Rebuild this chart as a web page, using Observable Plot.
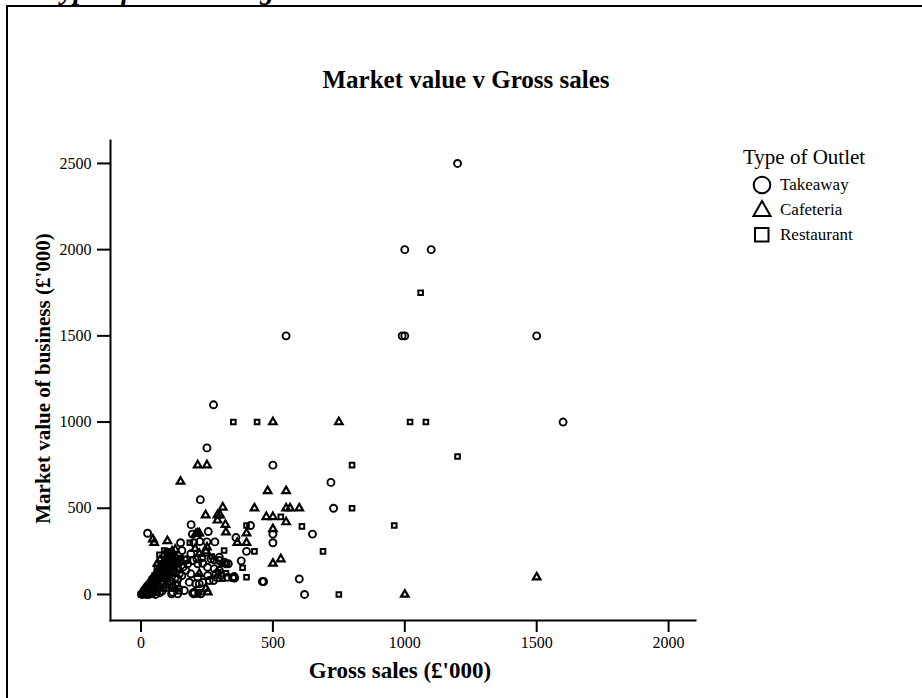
<!DOCTYPE html>
<html><head><meta charset="utf-8">
<script src="https://cdn.jsdelivr.net/npm/d3@7"></script>
<script src="https://cdn.jsdelivr.net/npm/@observablehq/plot@0.6"></script>
<style>
body{margin:0;background:#fff;font-family:"Liberation Serif","Times New Roman",serif;color:#000;}
#page{position:relative;width:922px;height:698px;overflow:hidden;background:#fff;}
#frame{position:absolute;left:6px;top:5px;width:1000px;height:1000px;border:2px solid #000;box-sizing:border-box;}
.t{position:absolute;line-height:1;white-space:nowrap;}
#chart{position:absolute;left:0;top:0;}
#chart svg{overflow:visible;}
#chart svg text{font-family:"Liberation Serif","Times New Roman",serif;}
</style></head>
<body><div id="page">
<div id="frame"></div>
<div class="t" id="top" style="left:45px;top:-24px;font-size:28px;font-weight:bold;font-style:italic;">Type of outlet and gross sales</div>
<div id="chart"></div>
<div class="t" id="title" style="left:266px;width:400px;text-align:center;top:67px;font-size:25px;font-weight:bold;">Market value v Gross sales</div>
<div class="t" id="xlab" style="left:200px;width:400px;text-align:center;top:658.7px;font-size:23px;font-weight:bold;">Gross sales (£'000)</div>
<div class="t" id="ylab" style="left:-157px;width:400px;text-align:center;top:367.5px;height:21px;font-size:21px;font-weight:bold;transform:rotate(-90deg);transform-origin:200px 10.5px;">Market value of business (£'000)</div>
<div class="t" style="left:743px;top:147.4px;font-size:21px;">Type of Outlet</div>
<div id="legend"></div>
</div>
<script>
// ---- data (Gross sales £'000, Market value £'000) ----
const takeawaySales = [1200,1000,1100,550,990,1000,1500,1600,275,250,500,720,730,500,650,500,460,465,600,620,225,415,190,255,360,400,380,355,25,150,200,195,223,250,280,155,100,189,246,297,316,331,174,212,230,265,278,297,322,353,290,183,221,259,116,200,227,177,196,215,234,252,278,297,189,215,253,284,275,303,328,347,208,234,202,164,120,139,196,
  5,10,15,20,25,30,35,40,45,50,55,60,65,70,75,80,85,90,95,100,105,110,120,125,130,135,140,145,150,160,165,60,70,85,100,110,120,90,75,130,
  2,8,12,18,22,28,32,38,42,48,52,58,62,68,72,78,82,88,92,98,102,108,30,55,80,95,115,140,155,170];
const takeawayValue = [2500,2000,2000,1500,1500,1500,1500,1000,1100,850,750,650,500,350,350,300,75,75,90,0,550,400,405,365,330,250,195,95,355,300,300,350,307,305,305,255,245,236,245,216,187,178,201,207,213,207,201,197,178,104,97,71,62,81,4,4,4,178,197,178,181,158,149,139,120,100,110,120,81,110,100,97,62,71,13,23,13,4,8,
  0,5,10,0,20,15,40,30,10,50,35,70,45,90,60,100,75,120,90,140,110,150,130,170,100,180,150,120,190,160,200,20,10,40,60,80,40,150,130,60,
  2,12,25,30,45,55,60,75,85,95,105,115,125,135,150,160,170,185,195,210,220,235,0,0,20,40,60,90,110,140];
const cafeteriaSales = [500,750,480,550,430,550,565,600,475,500,550,500,500,530,1500,1000,400,365,400,215,250,150,310,245,290,300,290,320,322,45,50,100,215,250,246,114,205,221,221,208,221,246,253,
  15,30,45,55,65,75,85,95,105,115,125,135,40,60,80,100,70,50,110,90,
  8,20,35,48,58,68,78,88,98,108,118,130,62,72];
const cafeteriaValue = [1000,1000,600,600,500,500,500,500,450,450,420,380,180,205,100,0,355,300,300,750,750,655,505,460,460,460,430,405,361,320,300,310,355,274,251,226,265,236,120,352,355,35,13,
  5,45,60,80,100,110,140,160,180,200,150,210,70,110,160,200,140,90,230,180,
  15,40,70,85,120,130,150,170,190,210,250,260,180,200];
const restaurantSales = [1060,350,440,1020,1080,1200,800,800,530,610,960,430,690,750,400,385,400,185,100,70,315,306,145,215,139,88,268,326,293,322,309,145,221,
  10,20,35,45,55,65,75,85,95,105,115,125,140,25,50,80,100,60,40,120,
  5,15,30,42,52,70,90,110,130,150,75,0];
const restaurantValue = [1750,1000,1000,1000,1000,800,750,500,450,395,400,250,250,0,400,155,100,300,250,230,255,178,33,0,62,255,220,178,129,123,91,19,13,
  10,25,55,75,65,120,95,160,130,170,120,190,200,30,100,120,100,150,0,230,
  5,30,50,90,110,130,110,140,170,210,180,0];
const xTicks = [0,500,1000,1500,2000];
const yTicks = [0,500,1000,1500,2000,2500];
const outletTypes = ["Takeaway","Cafeteria","Restaurant"];

const rows = (s, v, type) => s.map((d, i) => ({sales: d, value: v[i], type}));
const takeaway = rows(takeawaySales, takeawayValue, outletTypes[0]);
const cafeteria = rows(cafeteriaSales, cafeteriaValue, outletTypes[1]);
const restaurant = rows(restaurantSales, restaurantValue, outletTypes[2]);

const plot = Plot.plot({
  width: 922, height: 698,
  marginLeft: 110, marginRight: 227, marginTop: 140, marginBottom: 78,
  style: {background: "transparent", fontSize: "16px", color: "#000", overflow: "visible"},
  x: {domain: [-115.6, 2102]},
  y: {domain: [-151, 2633]},
  marks: [
    Plot.axisX({ticks: xTicks, tickSize: 12, tickPadding: 4, tickFormat: d => String(d), label: null, strokeWidth: 2, fontSize: 16}),
    Plot.axisY({ticks: yTicks, tickSize: 13, tickPadding: 6, tickFormat: d => String(d), label: null, strokeWidth: 2, fontSize: 16}),
    Plot.frame({anchor: "left", strokeWidth: 2}),
    Plot.frame({anchor: "bottom", strokeWidth: 2}),
    Plot.dot(restaurant, {x: "sales", y: "value", symbol: "square", r: 2.6, stroke: "black", strokeWidth: 2, fill: "none"}),
    Plot.dot(cafeteria, {x: "sales", y: "value", symbol: "triangle", r: 2.8, stroke: "black", strokeWidth: 2.2, fill: "none"}),
    Plot.dot(takeaway, {x: "sales", y: "value", symbol: "circle", r: 3.5, stroke: "black", strokeWidth: 1.9, fill: "none"})
  ]
});
document.getElementById("chart").appendChild(plot);

// legend
const leg = document.getElementById("legend");
const shapes = {
  Takeaway: '<circle cx="10" cy="10" r="8.3" fill="none" stroke="#000" stroke-width="2"/>',
  Cafeteria: '<path d="M10 2 L18.5 17 L1.5 17 Z" fill="none" stroke="#000" stroke-width="2" stroke-linejoin="miter"/>',
  Restaurant: '<rect x="3" y="3" width="13.5" height="13.5" fill="none" stroke="#000" stroke-width="2"/>'
};
const legCenters = [185, 209, 235];
const legBase = [190.7, 215.5, 240.7];
outletTypes.forEach((t, i) => {
  const s = document.createElement("div");
  s.style.cssText = `position:absolute;left:${752}px;top:${legCenters[i]-10}px;width:20px;height:20px;`;
  s.innerHTML = `<svg width="20" height="20" viewBox="0 0 20 20">${shapes[t]}</svg>`;
  leg.appendChild(s);
  const l = document.createElement("div");
  l.className = "t";
  l.style.cssText = `left:780px;top:${legBase[i] - 0.837*17}px;font-size:17px;`;
  l.textContent = t;
  leg.appendChild(l);
});
</script>
</body></html>
